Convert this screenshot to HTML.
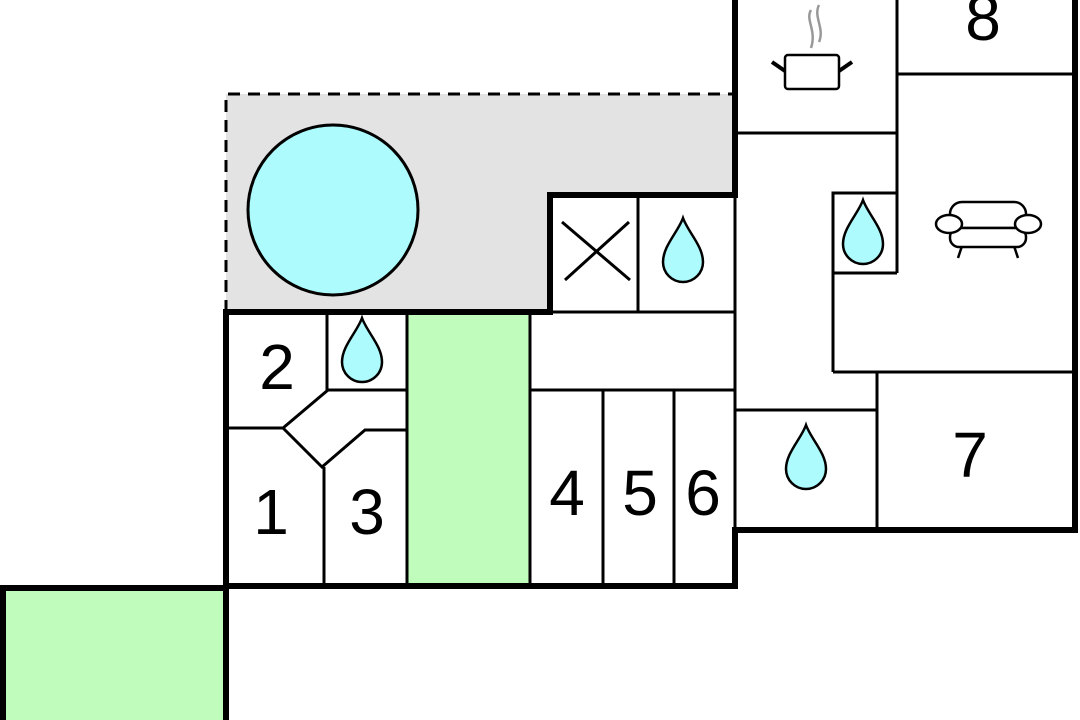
<!DOCTYPE html>
<html><head><meta charset="utf-8"><style>html,body{margin:0;padding:0;background:#fff}svg{display:block}</style></head>
<body>
<svg width="1080" height="720" viewBox="0 0 1080 720" xmlns="http://www.w3.org/2000/svg" font-family="Liberation Sans, Arial, sans-serif">
<defs>
<path id="drop" d="M0,0 C-5,14 -20,28 -20,44 A20,20 0 0 0 20,44 C20,28 5,14 0,0 Z" fill="#aefbfd" stroke="#000" stroke-width="2.5"/>
</defs>
<!-- gray terrace -->
<path d="M226,94 H735 V195 H550 V312 H226 Z" fill="#e3e3e3"/>
<path d="M226,312 V94 H735" fill="none" stroke="#000" stroke-width="3" stroke-dasharray="12,8"/>
<circle cx="333" cy="210" r="85" fill="#aefbfd" stroke="#000" stroke-width="3"/>
<!-- green areas -->
<rect x="407" y="312" width="123" height="274" fill="#c0fcbc"/>
<rect x="3" y="588" width="223" height="132" fill="#c0fcbc"/>
<!-- thin interior lines -->
<g stroke="#000" stroke-width="3" fill="none">
<line x1="735" y1="133" x2="897" y2="133"/>
<line x1="897" y1="0" x2="897" y2="273"/>
<line x1="897" y1="74" x2="1075" y2="74"/>
<polyline points="897,273 833,273 833,193 897,193"/>
<line x1="833" y1="273" x2="833" y2="372"/>
<line x1="833" y1="372" x2="1075" y2="372"/>
<line x1="877" y1="372" x2="877" y2="530"/>
<line x1="735" y1="410" x2="877" y2="410"/>
<line x1="735" y1="195" x2="735" y2="530"/>
<line x1="638" y1="195" x2="638" y2="312"/>
<line x1="530" y1="312" x2="735" y2="312"/>
<line x1="530" y1="390" x2="735" y2="390"/>
<line x1="530" y1="312" x2="530" y2="586"/>
<line x1="603" y1="390" x2="603" y2="586"/>
<line x1="674" y1="390" x2="674" y2="586"/>
<line x1="407" y1="312" x2="407" y2="586"/>
<line x1="327" y1="312" x2="327" y2="390"/>
<polyline points="407,390 328,390 283,428 226,428"/>
<polyline points="283,428 322,467 365,430 407,430"/>
<line x1="324" y1="467" x2="324" y2="586"/>
<line x1="562" y1="222" x2="630" y2="280"/>
<line x1="565" y1="280" x2="629" y2="222"/>
</g>
<!-- thick walls -->
<g stroke="#000" stroke-width="6" fill="none">
<line x1="735" y1="0" x2="735" y2="198"/>
<polyline points="735,195 550,195 550,312 226,312 226,720"/>
<polyline points="0,588 226,588"/>
<line x1="3" y1="588" x2="3" y2="720"/>
<polyline points="226,586 735,586 735,530 1075,530 1075,0"/>
</g>
<!-- drops -->
<use href="#drop" x="362" y="318"/>
<use href="#drop" x="683" y="218"/>
<use href="#drop" x="863" y="200"/>
<use href="#drop" x="806" y="425"/>
<!-- pot -->
<g fill="none" stroke="#000" stroke-width="2.5">
<rect x="785" y="55" width="54" height="34" rx="3" fill="#fff"/>
<line x1="772" y1="62" x2="785" y2="71" stroke-width="4"/>
<line x1="852" y1="62" x2="839" y2="71" stroke-width="4"/>
</g>
<g fill="none" stroke="#999" stroke-width="2.5">
<path d="M811,10 C805,20 817,30 811,48"/>
<path d="M819,5 C813,17 825,28 819,42"/>
</g>
<!-- sofa -->
<g fill="#fff" stroke="#000" stroke-width="2.5">
<line x1="962" y1="246" x2="958" y2="258"/>
<line x1="1014" y1="246" x2="1018" y2="258"/>
<rect x="950" y="202" width="76" height="26" rx="12"/>
<rect x="950" y="228" width="76" height="19" rx="9"/>
<ellipse cx="949" cy="224" rx="13" ry="9"/>
<ellipse cx="1028" cy="224" rx="13" ry="9"/>
</g>
<!-- labels -->
<g font-size="64" text-anchor="middle" fill="#000">
<text x="277" y="389">2</text>
<text x="271" y="534">1</text>
<text x="367" y="534">3</text>
<text x="567" y="515">4</text>
<text x="640" y="515">5</text>
<text x="703" y="515">6</text>
<text x="970" y="477">7</text>
<text x="983" y="40">8</text>
</g>
</svg>
</body></html>
